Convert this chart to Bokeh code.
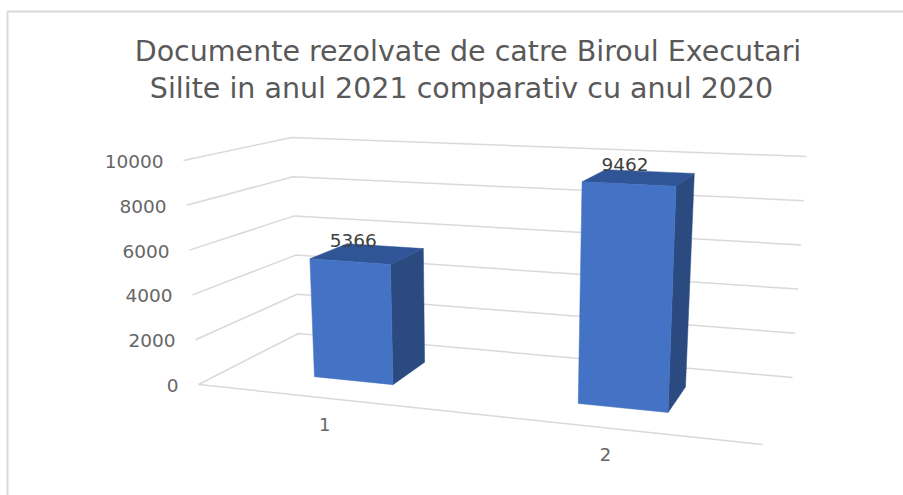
from bokeh.plotting import figure
from bokeh.models import Range1d
from bokeh.core.properties import value
from bokeh.embed import file_html
from bokeh.resources import INLINE

title_lines = ["Documente rezolvate de catre Biroul Executari",
               "Silite in anul 2021 comparativ cu anul 2020"]
categories = ["1", "2"]
values = [5366, 9462]
ticks = [0, 2000, 4000, 6000, 8000, 10000]
VMAX = 10000

# 3D box corners in picture pixels: floor corners and roof corners
FL0, FR0, BL0, BR0 = (198, 384), (762, 444), (298, 333), (792, 377)
FL1, FR1, BL1, BR1 = (183, 160), (775, 188), (291, 137), (806, 156)
BAR_U = [(0.155, 0.30), (0.642, 0.808)]
BAR_D = (0.32, 0.72)
LABEL_U = [0.2275, 0.725]


def proj(u, d, v):
    t = v / VMAX
    out = []
    for i in (0, 1):
        f0 = (1 - u) * FL0[i] + u * FR0[i]
        b0 = (1 - u) * BL0[i] + u * BR0[i]
        f1 = (1 - u) * FL1[i] + u * FR1[i]
        b1 = (1 - u) * BL1[i] + u * BR1[i]
        low = (1 - d) * f0 + d * b0
        high = (1 - d) * f1 + d * b1
        out.append((1 - t) * low + t * high)
    return out


W, H = 903, 495
p = figure(width=W, height=H, output_backend="svg", toolbar_location=None,
           x_range=Range1d(0, W), y_range=Range1d(H, 0),
           min_border=0, outline_line_color=None)
p.axis.visible = False
p.grid.visible = False

GRAY = "#595959"
GRID = "#D9D9D9"
FONT = value("DejaVu Sans")

# chart frame
p.line([7, 7], [H, 11], line_color="#D9D9D9", line_width=2)
p.line([7, W], [11, 11], line_color="#D9D9D9", line_width=2)

# title
p.text([467.5, 461], [51, 88], text=title_lines, text_font=FONT, text_font_size="28.5px",
       text_color=GRAY, text_align="center", text_baseline="middle")

# walls + floor gridlines
for t in ticks:
    pts = [proj(0, 0, t), proj(0, 1, t), proj(1, 1, t)]
    p.line([a[0] for a in pts], [a[1] for a in pts], line_color=GRID, line_width=1.5)
a, b = proj(0, 0, 0), proj(1, 0, 0)
p.line([a[0], b[0]], [a[1], b[1]], line_color=GRID, line_width=1.5)

# value tick labels
for t in ticks:
    x, y = proj(0, 0, t)
    p.text([x - 20], [y + 1], text=[str(t)], text_font=FONT, text_font_size="18.5px",
           text_color="#666666", text_align="right", text_baseline="middle")

# bars
for (u0, u1), v in zip(BAR_U, values):
    d0, d1 = BAR_D
    side = [proj(u1, d0, 0), proj(u1, d1, 0), proj(u1, d1, v), proj(u1, d0, v)]
    top = [proj(u0, d0, v), proj(u1, d0, v), proj(u1, d1, v), proj(u0, d1, v)]
    front = [proj(u0, d0, 0), proj(u1, d0, 0), proj(u1, d0, v), proj(u0, d0, v)]
    for face, col in ((side, "#2B4A80"), (top, "#2F5597"), (front, "#4472C4")):
        p.patch([q[0] for q in face], [q[1] for q in face], fill_color=col, line_color=col, line_width=0.5)

# data labels
for (u0, u1), v in zip(BAR_U, values):
    x, y = proj((u0 + u1) / 2, sum(BAR_D) / 2, v)
    p.text([x - 14.5], [y - 13], text=[str(v)], text_font=FONT, text_font_size="18.5px",
           text_color="#404040", text_align="center", text_baseline="middle")

# category labels
for c, u in zip(categories, LABEL_U):
    x, y = proj(u, 0, 0)
    p.text([x - 2], [y + 26], text=[c], text_font=FONT, text_font_size="18px",
           text_color="#666666", text_align="center", text_baseline="middle")

open("out.html", "w").write(file_html(p, INLINE))
